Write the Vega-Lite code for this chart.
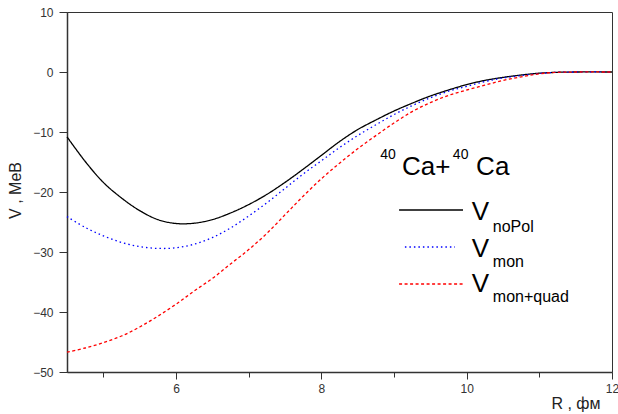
{
  "$schema": "https://vega.github.io/schema/vega-lite/v6.json",
  "width": 545,
  "height": 360,
  "autosize": {"type": "none"},
  "padding": {"left": 67, "top": 12, "right": 6, "bottom": 42},
  "background": "white",
  "config": {
    "view": {"stroke": "#333333", "strokeWidth": 1},
    "font": "Liberation Sans",
    "axis": {
      "grid": false,
      "domainColor": "#333333",
      "domainWidth": 1.5,
      "tickColor": "#333333",
      "tickWidth": 1,
      "labelFont": "Liberation Sans",
      "labelFontSize": 12,
      "labelColor": "#333333",
      "titleFont": "Liberation Sans",
      "titleFontSize": 16,
      "titleFontWeight": "normal",
      "titleColor": "#222222"
    }
  },
  "datasets": {
    "curves": [
      {"R": 4.5, "V": -10.8, "s": "noPol"},
      {"R": 4.75, "V": -14.9, "s": "noPol"},
      {"R": 5.0, "V": -18.4, "s": "noPol"},
      {"R": 5.25, "V": -21.0, "s": "noPol"},
      {"R": 5.5, "V": -23.1, "s": "noPol"},
      {"R": 5.75, "V": -24.6, "s": "noPol"},
      {"R": 6.0, "V": -25.25, "s": "noPol"},
      {"R": 6.25, "V": -25.2, "s": "noPol"},
      {"R": 6.5, "V": -24.6, "s": "noPol"},
      {"R": 6.75, "V": -23.5, "s": "noPol"},
      {"R": 7.0, "V": -22.1, "s": "noPol"},
      {"R": 7.25, "V": -20.4, "s": "noPol"},
      {"R": 7.5, "V": -18.4, "s": "noPol"},
      {"R": 7.75, "V": -16.2, "s": "noPol"},
      {"R": 8.0, "V": -13.9, "s": "noPol"},
      {"R": 8.25, "V": -11.6, "s": "noPol"},
      {"R": 8.5, "V": -9.6, "s": "noPol"},
      {"R": 8.75, "V": -8.0, "s": "noPol"},
      {"R": 9.0, "V": -6.5, "s": "noPol"},
      {"R": 9.25, "V": -5.2, "s": "noPol"},
      {"R": 9.5, "V": -4.0, "s": "noPol"},
      {"R": 9.75, "V": -3.0, "s": "noPol"},
      {"R": 10.0, "V": -2.1, "s": "noPol"},
      {"R": 10.25, "V": -1.4, "s": "noPol"},
      {"R": 10.5, "V": -0.9, "s": "noPol"},
      {"R": 10.75, "V": -0.5, "s": "noPol"},
      {"R": 11.0, "V": -0.2, "s": "noPol"},
      {"R": 11.25, "V": -0.05, "s": "noPol"},
      {"R": 11.5, "V": 0, "s": "noPol"},
      {"R": 12.0, "V": 0, "s": "noPol"},
      {"R": 4.5, "V": -24.1, "s": "mon"},
      {"R": 4.75, "V": -25.9, "s": "mon"},
      {"R": 5.0, "V": -27.3, "s": "mon"},
      {"R": 5.25, "V": -28.4, "s": "mon"},
      {"R": 5.5, "V": -29.1, "s": "mon"},
      {"R": 5.75, "V": -29.4, "s": "mon"},
      {"R": 6.0, "V": -29.3, "s": "mon"},
      {"R": 6.25, "V": -28.7, "s": "mon"},
      {"R": 6.5, "V": -27.6, "s": "mon"},
      {"R": 6.75, "V": -26.0, "s": "mon"},
      {"R": 7.0, "V": -24.0, "s": "mon"},
      {"R": 7.25, "V": -21.8, "s": "mon"},
      {"R": 7.5, "V": -19.4, "s": "mon"},
      {"R": 7.75, "V": -17.0, "s": "mon"},
      {"R": 8.0, "V": -14.8, "s": "mon"},
      {"R": 8.25, "V": -12.6, "s": "mon"},
      {"R": 8.5, "V": -10.6, "s": "mon"},
      {"R": 8.75, "V": -8.8, "s": "mon"},
      {"R": 9.0, "V": -7.1, "s": "mon"},
      {"R": 9.25, "V": -5.6, "s": "mon"},
      {"R": 9.5, "V": -4.3, "s": "mon"},
      {"R": 9.75, "V": -3.2, "s": "mon"},
      {"R": 10.0, "V": -2.4, "s": "mon"},
      {"R": 10.25, "V": -1.6, "s": "mon"},
      {"R": 10.5, "V": -1.0, "s": "mon"},
      {"R": 10.75, "V": -0.6, "s": "mon"},
      {"R": 11.0, "V": -0.25, "s": "mon"},
      {"R": 11.25, "V": -0.05, "s": "mon"},
      {"R": 11.5, "V": 0, "s": "mon"},
      {"R": 12.0, "V": 0, "s": "mon"},
      {"R": 4.5, "V": -46.7, "s": "mon+quad"},
      {"R": 4.75, "V": -46.0, "s": "mon+quad"},
      {"R": 5.0, "V": -45.1, "s": "mon+quad"},
      {"R": 5.25, "V": -44.0, "s": "mon+quad"},
      {"R": 5.5, "V": -42.5, "s": "mon+quad"},
      {"R": 5.75, "V": -40.7, "s": "mon+quad"},
      {"R": 6.0, "V": -38.7, "s": "mon+quad"},
      {"R": 6.25, "V": -36.5, "s": "mon+quad"},
      {"R": 6.5, "V": -34.4, "s": "mon+quad"},
      {"R": 6.75, "V": -32.0, "s": "mon+quad"},
      {"R": 7.0, "V": -29.6, "s": "mon+quad"},
      {"R": 7.25, "V": -26.9, "s": "mon+quad"},
      {"R": 7.5, "V": -23.8, "s": "mon+quad"},
      {"R": 7.75, "V": -20.7, "s": "mon+quad"},
      {"R": 8.0, "V": -17.8, "s": "mon+quad"},
      {"R": 8.25, "V": -15.2, "s": "mon+quad"},
      {"R": 8.5, "V": -12.8, "s": "mon+quad"},
      {"R": 8.75, "V": -10.6, "s": "mon+quad"},
      {"R": 9.0, "V": -8.5, "s": "mon+quad"},
      {"R": 9.25, "V": -6.6, "s": "mon+quad"},
      {"R": 9.5, "V": -5.1, "s": "mon+quad"},
      {"R": 9.75, "V": -3.9, "s": "mon+quad"},
      {"R": 10.0, "V": -3.0, "s": "mon+quad"},
      {"R": 10.25, "V": -2.2, "s": "mon+quad"},
      {"R": 10.5, "V": -1.4, "s": "mon+quad"},
      {"R": 10.75, "V": -0.8, "s": "mon+quad"},
      {"R": 11.0, "V": -0.3, "s": "mon+quad"},
      {"R": 11.25, "V": -0.05, "s": "mon+quad"},
      {"R": 11.5, "V": 0, "s": "mon+quad"},
      {"R": 12.0, "V": 0, "s": "mon+quad"}
    ],
    "legendLines": [
      {"s": "noPol", "x": 9.07, "x2": 9.95, "y": -23.0},
      {"s": "mon", "x": 9.15, "x2": 9.84, "y": -29.17},
      {"s": "mon+quad", "x": 9.07, "x2": 9.95, "y": -35.33}
    ]
  },
  "layer": [
    {
      "mark": {"type": "rule", "color": "#000000", "strokeWidth": 1.3},
      "encoding": {
        "y": {"datum": 0, "type": "quantitative", "scale": {"domain": [-50, 10], "nice": false, "zero": false},
          "axis": {
            "values": [-50, -45, -40, -35, -30, -25, -20, -15, -10, -5, 0, 5, 10],
            "tickSize": {"condition": {"test": "datum.value % 10 === 0", "value": 8}, "value": 5},
            "labelExpr": "datum.value % 10 === 0 ? datum.label : ''",
            "format": "d",
            "labelPadding": 6,
            "labelOverlap": false,
            "title": "V , MeB",
            "titleAngle": -90,
            "titleX": -44,
            "titleY": 178,
            "titleAlign": "center",
            "titleBaseline": "bottom"
          }
        }
      }
    },
    {
      "data": {"name": "curves"},
      "mark": {"type": "line", "interpolate": "catmull-rom", "strokeWidth": 1.3},
      "encoding": {
        "x": {"field": "R", "type": "quantitative", "scale": {"domain": [4.5, 12], "nice": false, "zero": false},
          "axis": {
            "values": [5, 6, 7, 8, 9, 10, 11, 12],
            "tickSize": {"condition": {"test": "datum.value % 2 === 0", "value": 7}, "value": 5},
            "labelExpr": "datum.value % 2 === 0 ? datum.label : ''",
            "format": "d",
            "labelPadding": 4,
            "labelFlush": false,
            "labelOverlap": false,
            "title": "R , фм",
            "titleX": 533,
            "titleY": 36,
            "titleAlign": "right",
            "titleBaseline": "alphabetic"
          }
        },
        "y": {"field": "V", "type": "quantitative"},
        "color": {"field": "s", "type": "nominal", "legend": null,
          "scale": {"domain": ["noPol", "mon", "mon+quad"], "range": ["#000000", "#0000ff", "#ff0000"]}},
        "strokeDash": {"field": "s", "type": "nominal", "legend": null,
          "scale": {"domain": ["noPol", "mon", "mon+quad"], "range": [[1, 0], [1.5, 3], [3, 2.5]]}}
      }
    },
    {
      "data": {"name": "legendLines"},
      "mark": {"type": "rule", "strokeWidth": 1.3},
      "encoding": {
        "x": {"field": "x", "type": "quantitative"},
        "x2": {"field": "x2"},
        "y": {"field": "y", "type": "quantitative"},
        "color": {"field": "s", "type": "nominal", "legend": null},
        "strokeDash": {"field": "s", "type": "nominal", "legend": null}
      }
    },
    {
      "data": {"values": [
        {"x": 9.11, "y": -17.17, "t": "Ca+"},
        {"x": 10.13, "y": -17.17, "t": "Ca"}
      ]},
      "mark": {"type": "text", "align": "left", "baseline": "alphabetic", "fontSize": 26, "color": "#000000", "font": "Liberation Sans"},
      "encoding": {
        "x": {"field": "x", "type": "quantitative"},
        "y": {"field": "y", "type": "quantitative"},
        "text": {"field": "t"}
      }
    },
    {
      "data": {"values": [
        {"x": 8.81, "y": -14.5, "t": "40"},
        {"x": 9.81, "y": -14.5, "t": "40"}
      ]},
      "mark": {"type": "text", "align": "left", "baseline": "alphabetic", "fontSize": 14, "color": "#000000", "font": "Liberation Sans"},
      "encoding": {
        "x": {"field": "x", "type": "quantitative"},
        "y": {"field": "y", "type": "quantitative"},
        "text": {"field": "t"}
      }
    },
    {
      "data": {"values": [
        {"x": 10.07, "y": -24.67, "t": "V"},
        {"x": 10.07, "y": -30.83, "t": "V"},
        {"x": 10.07, "y": -36.67, "t": "V"}
      ]},
      "mark": {"type": "text", "align": "left", "baseline": "alphabetic", "fontSize": 26, "color": "#000000", "font": "Liberation Sans"},
      "encoding": {
        "x": {"field": "x", "type": "quantitative"},
        "y": {"field": "y", "type": "quantitative"},
        "text": {"field": "t"}
      }
    },
    {
      "data": {"values": [
        {"x": 10.36, "y": -26.67, "t": "noPol"},
        {"x": 10.36, "y": -32.5, "t": "mon"},
        {"x": 10.36, "y": -38.33, "t": "mon+quad"}
      ]},
      "mark": {"type": "text", "align": "left", "baseline": "alphabetic", "fontSize": 16, "color": "#000000", "font": "Liberation Sans"},
      "encoding": {
        "x": {"field": "x", "type": "quantitative"},
        "y": {"field": "y", "type": "quantitative"},
        "text": {"field": "t"}
      }
    }
  ]
}
